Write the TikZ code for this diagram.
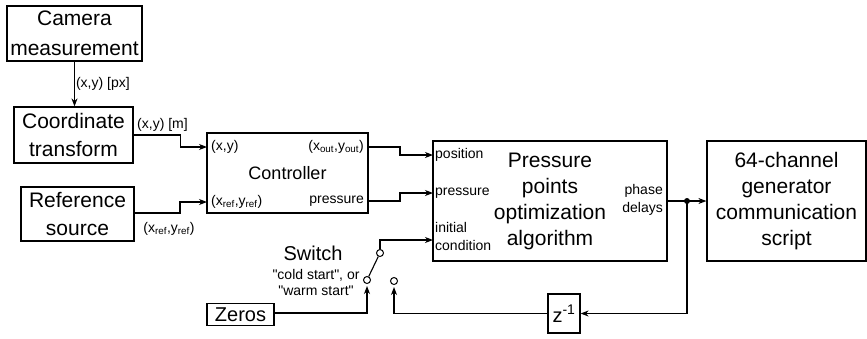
\documentclass[tikz,border=0pt]{standalone}
\usepackage{fontspec}
\setmainfont{Liberation Sans}
\usetikzlibrary{arrows.meta}
\begin{document}
\begin{tikzpicture}[x=1pt, y=-1pt,
    blk/.style={draw, line width=1.2pt, align=center, inner sep=0pt,
      font=\fontsize{21}{28}\selectfont},
    big/.style={font=\fontsize{21}{26}\selectfont},
    lbl/.style={inner sep=1pt, font=\fontsize{14}{18}\selectfont},
    port/.style={lbl, inner sep=4pt},
    sig/.style={-{Stealth[length=8pt,width=6pt,inset=2.5pt]}, line width=1.1pt},
    wire/.style={line width=1.1pt},
    contact/.style={circle, draw, line width=1pt, inner sep=0pt, minimum size=7pt}]
  \useasboundingbox (0,0) rectangle (867,338);
  % blocks
  \node[blk, minimum width=135pt, minimum height=55pt, font=\fontsize{21}{30}\selectfont] (cam) at (74.5,33.5) {Camera\\measurement};
  \node[blk, minimum width=119pt, minimum height=56pt] (coord) at (73.5,135) {Coordinate\\transform};
  \node[blk, minimum width=113pt, minimum height=54pt] (ref) at (77.5,214) {Reference\\source};
  \node[blk, minimum width=161pt, minimum height=80pt, font=\fontsize{18}{22}\selectfont] (ctl) at (287.5,173) {Controller};
  \node[blk, big, minimum width=234pt, minimum height=120pt] (opt) at (550,201) {Pressure\\points\\optimization\\algorithm};
  \node[blk, big, minimum width=159pt, minimum height=120pt] (gen) at (786.5,201) {64-channel\\generator\\communication\\script};
  \node[blk, minimum width=67pt, minimum height=22pt, font=\fontsize{20}{24}\selectfont] (zeros) at (240.5,314.5) {Zeros};
  \node[blk, minimum width=32pt, minimum height=39pt, font=\fontsize{20}{24}\selectfont] (zinv) at (564,313.5) {z\textsuperscript{-1}};
  % ports
  \node[port, anchor=west] (cxy) at (207,147) {(x,y)};
  \node[port, anchor=west] (cref) at (207,202) {(x\textsubscript{ref},y\textsubscript{ref})};
  \node[port, anchor=east] (cout) at (368,147) {(x\textsubscript{out},y\textsubscript{out})};
  \node[port, anchor=east] (cpres) at (368,201) {pressure};
  \node[port, inner sep=2pt, anchor=west] (opos) at (433,155) {position};
  \node[port, inner sep=2pt, anchor=west] (opres) at (433,193) {pressure};
  \node[port, inner sep=2pt, anchor=west, align=left] (oinit) at (433,236) {initial\\condition};
  \coordinate (oin) at (433,240);
  \node[port, anchor=east, align=right] (odel) at (667,200) {phase\\delays};
  % switch
  \node[contact] (sw0) at (380,253) {};
  \node[contact] (sw1) at (367,280) {};
  \node[contact] (sw2) at (394,281) {};
  \node[font=\fontsize{20}{24}\selectfont] (swlbl) at (313,253) {Switch};
  \node[lbl, align=center, font=\fontsize{14}{16}\selectfont] (swmode) at (316,282) {\textquotedbl cold start\textquotedbl, or\\\textquotedbl warm start\textquotedbl};
  \coordinate (split) at (687,201);
  % signals
  \draw[sig] (cam.south) -- (cam.south |- coord.north)
    node[lbl, pos=0.5, anchor=west] (lpx) {(x,y) [px]};
  \draw[sig] (coord.east) -- ++(47,0) |- (cxy.west);
  \node[lbl, anchor=south west] (lm) at (136,133) {(x,y) [m]};
  \draw[sig] (ref.east |- 0,213) -- (180,213) |- (cref.west);
  \node[lbl] (lref) at (169,229) {(x\textsubscript{ref},y\textsubscript{ref})};
  \draw[sig] (cout.east) -- ++(32,0) |- (opos.west);
  \draw[sig] (cpres.east) -- ++(32,0) |- (opres.west);
  \draw[sig] (odel.east |- split) -- (gen.west |- split);
  \fill (split) circle (3pt);
  \draw[sig] (split) |- (zinv.east);
  \draw[sig, shorten >=2pt] (zinv.west) -| (sw2.south);
  \draw[sig, shorten >=2pt] (zeros.east |- 0,313) -| (sw1.south);
  \draw[wire] (sw1) -- (sw0);
  \draw[sig] (sw0.north) |- (oin);
\end{tikzpicture}
\end{document}
